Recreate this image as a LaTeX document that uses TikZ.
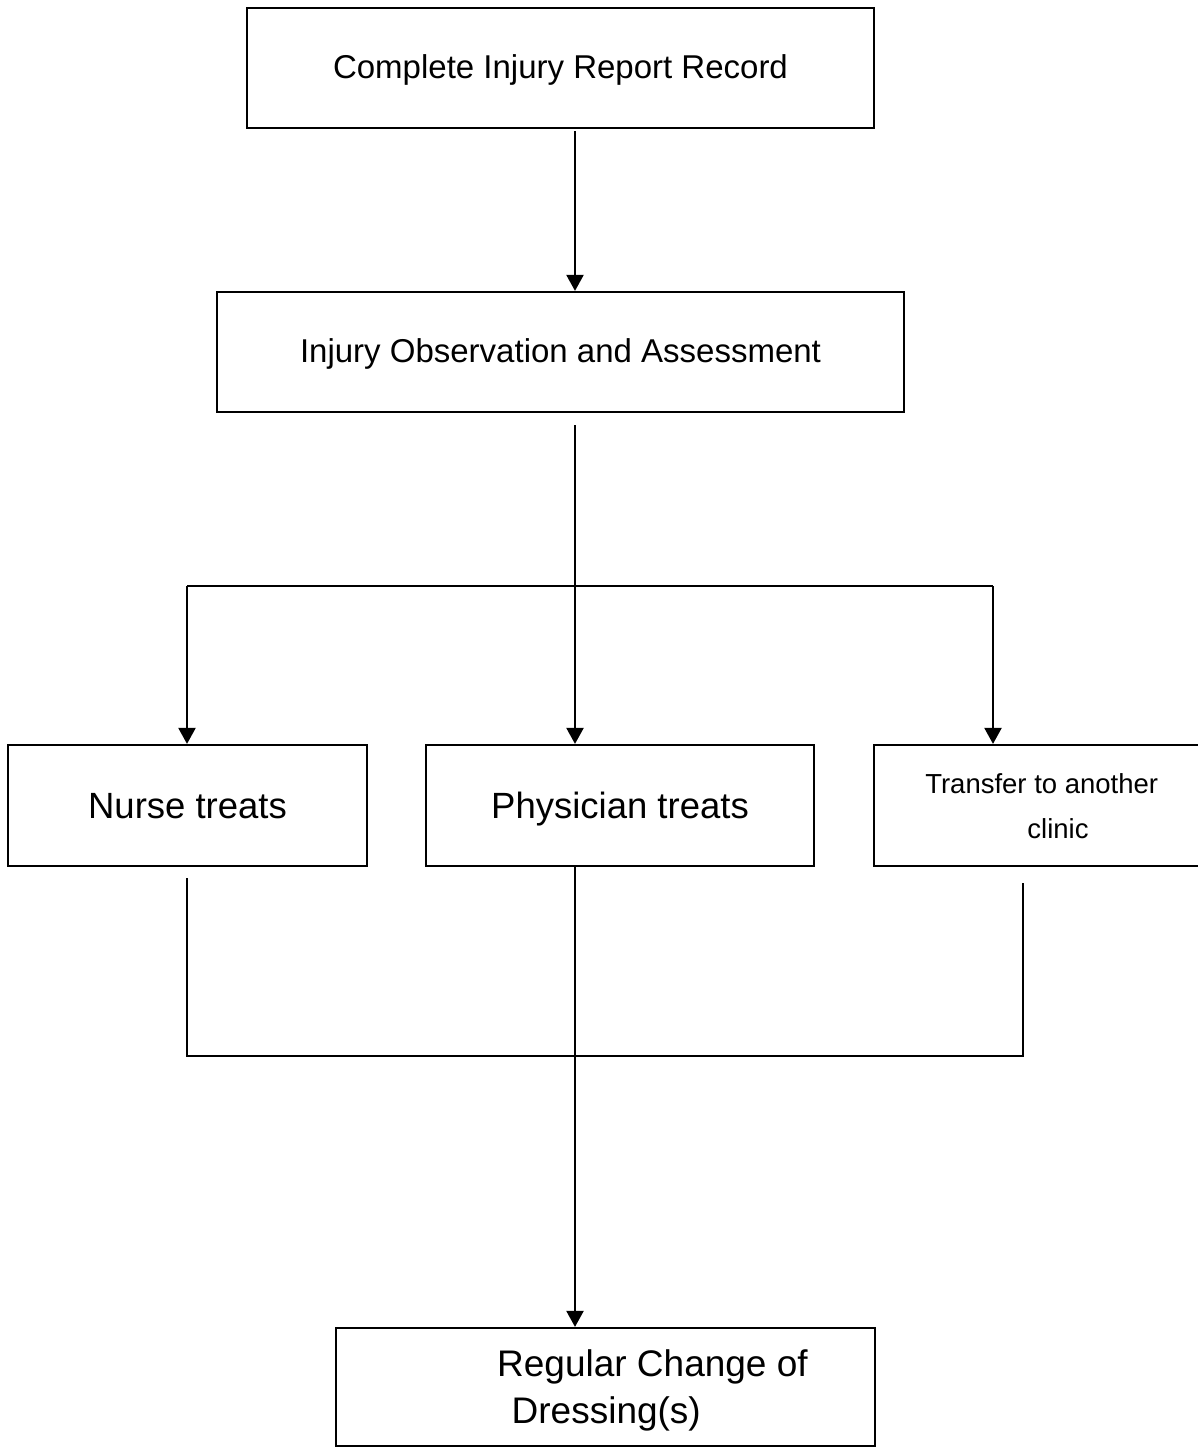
\documentclass[tikz,border=0pt]{standalone}
\usepackage{fontspec}
\setmainfont{Liberation Sans}
\usetikzlibrary{arrows.meta}
\tikzset{
  box/.style={draw=black, line width=2.2pt, inner sep=0pt, rectangle, fill=white},
  bigtxt/.style={font=\fontsize{33}{40}\selectfont, text height=20pt, text depth=0pt},
  hugetxt/.style={font=\fontsize{36.5}{44}\selectfont, text height=25.6pt, text depth=0pt},
  smalltxt/.style={font=\fontsize{27.5}{33}\selectfont, anchor=base, inner sep=0pt},
  dresstxt/.style={font=\fontsize{37}{44}\selectfont, anchor=base west, inner sep=0pt},
  conn/.style={draw=black, line width=2.2pt},
  arr/.style={conn, -{Triangle[width=17pt,length=16pt]}},
}
\begin{document}
\begin{tikzpicture}[x=1pt,y=-1pt]
\useasboundingbox (0,0) rectangle (1197,1448);
\fill[white] (0,0) rectangle (1197,1448);

% boxes
\node[box, bigtxt, minimum width=627pt, minimum height=120pt] (b1) at (560.5,68) {Complete Injury Report Record};
\node[box, bigtxt, minimum width=687pt, minimum height=120pt] (b2) at (560.5,352) {Injury Observation and Assessment};
\node[box, hugetxt, minimum width=359pt, minimum height=121pt] (b3) at (187.5,805.5) {Nurse treats};
\node[box, hugetxt, minimum width=388pt, minimum height=121pt] (b4) at (620,805.5) {Physician treats};
\node[box, minimum width=325pt, minimum height=121pt] (b5) at (1036.5,805.5) {};
\node[box, minimum width=539pt, minimum height=118pt] (b6) at (605.5,1387) {};

% texts of the two-line boxes
\node[smalltxt] (t5a) at (1041.7,793) {Transfer to another};
\node[smalltxt] (t5b) at (1058,838.5) {clinic};
\node[dresstxt] (t6a) at (497,1376) {Regular Change of};
\node[dresstxt] (t6b) at (511.5,1423) {Dressing(s)};

% helper coordinates
\coordinate (s1) at (575,131);
\coordinate (s2) at (575,425);
\coordinate (jl) at (187,586);
\coordinate (jr) at (993,586);
\coordinate (ml) at (187,878);
\coordinate (mr) at (1023,883);
\coordinate (bl) at (187,1056);
\coordinate (br) at (1023,1056);
\coordinate (pc) at (575,866);

% connectors
\draw[arr] (s1) -- (s1 |- b2.north);
\draw[arr] (s2) -- (s2 |- b4.north);
\draw[conn] (jl) -- (jr);
\draw[arr] (jl) -- (jl |- b3.north);
\draw[arr] (jr) -- (jr |- b5.north);
\draw[conn] (ml) -- (bl) -- (br) -- (mr);
\draw[arr] (pc) -- (pc |- b6.north);
\end{tikzpicture}
\end{document}
